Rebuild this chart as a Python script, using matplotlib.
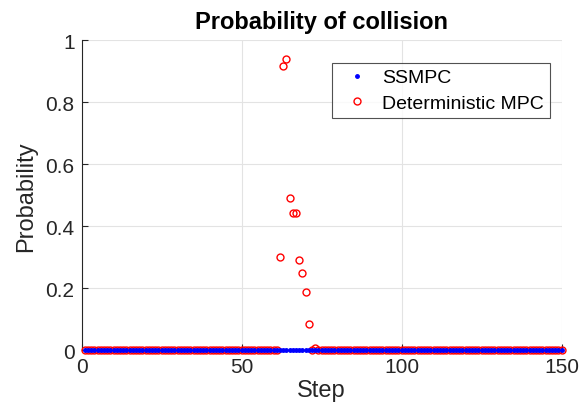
import numpy as np
import matplotlib
matplotlib.use("Agg")
import matplotlib.pyplot as plt

plt.rcParams["font.family"] = ["Liberation Sans", "DejaVu Sans"]

# ── Data ──────────────────────────────────────────────────────────────────────
steps = np.arange(1, 151)
ssmpc_prob = np.zeros(150)

# deterministic MPC is zero everywhere except around the crossing
det_steps = [62, 63, 64, 65, 66, 67, 68, 69, 70, 71, 72, 73]
det_vals = [0.302, 0.918, 0.940, 0.491, 0.442, 0.442, 0.292, 0.248, 0.187, 0.086, 0.0, 0.006]
det_prob = np.zeros(150)
for s, v in zip(det_steps, det_vals):
    det_prob[s - 1] = v

# ── Plot ──────────────────────────────────────────────────────────────────────
fig = plt.figure(figsize=(5.79, 4.14), dpi=100)
ax = fig.add_axes([0.1408, 0.1514, 0.829, 0.7488])

ax.plot(steps, ssmpc_prob, ".", color="#0000ff", markersize=5, zorder=4,
        clip_on=False, label="SSMPC")
ax.plot(steps, det_prob, "o", color="#ff0000", markerfacecolor="none",
        markersize=5, markeredgewidth=1.0, zorder=3, clip_on=False,
        label="Deterministic MPC")

ax.set_xlim(0, 150)
ax.set_ylim(0, 1)
ax.set_xticks([0, 50, 100, 150])
ax.set_yticks([0, 0.2, 0.4, 0.6, 0.8, 1])
ax.set_yticklabels(["0", "0.2", "0.4", "0.6", "0.8", "1"])
ax.tick_params(direction="in", labelsize=15, colors="#262626", length=4, pad=5)
ax.grid(True, color="#e3e3e3", linewidth=0.8)
ax.set_axisbelow(True)
for side in ["top", "right"]:
    ax.spines[side].set_visible(False)
for side in ["left", "bottom"]:
    ax.spines[side].set_color("#262626")
    ax.spines[side].set_linewidth(0.8)

ax.set_title("Probability of collision", fontsize=17, fontweight="bold", pad=9)
ax.set_xlabel("Step", fontsize=17, color="#262626", labelpad=2)
ax.set_ylabel("Probability", fontsize=17, color="#262626", labelpad=6)

leg = ax.legend(loc="upper right", bbox_to_anchor=(0.976, 0.927), borderaxespad=0,
                fontsize=14, frameon=True, fancybox=False, edgecolor="#262626",
                handlelength=2.0, handletextpad=0.3, borderpad=0.3,
                labelspacing=0.4)
leg.get_frame().set_linewidth(0.8)

plt.savefig("out.png", dpi=100)
